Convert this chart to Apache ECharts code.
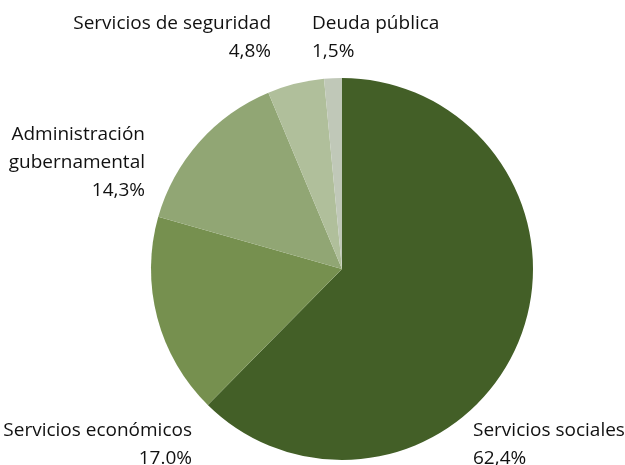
<!DOCTYPE html>
<html>
<head>
<meta charset="utf-8">
<script src="https://cdn.jsdelivr.net/npm/echarts@6/dist/echarts.min.js"></script>
<style>html,body{margin:0;padding:0;background:#fff;}#c{width:625px;height:465px;}</style>
</head>
<body>
<div id="c"></div>
<script>
const categories = ['Servicios sociales', 'Servicios económicos', 'Administración\ngubernamental', 'Servicios de seguridad', 'Deuda pública'];
const values = [62.4, 17.0, 14.3, 4.8, 1.5];
const valueLabels = ['62,4%', '17.0%', '14,3%', '4,8%', '1,5%'];
const colors = ['#435f27', '#76904f', '#91a674', '#b0bf9b', '#c0c8b8'];

// label anchor placement (layout, not data)
const labelPos = [
  {x: 473, y: 417, align: 'left'},
  {x: 192, y: 417, align: 'right'},
  {x: 145, y: 121, align: 'right'},
  {x: 271, y: 10, align: 'right'},
  {x: 312, y: 10, align: 'left'}
];

const chart = echarts.init(document.getElementById('c'));
chart.setOption({
  animation: false,
  series: [{
    type: 'pie',
    center: [342, 269],
    radius: [0, 191],
    startAngle: 90,
    clockwise: true,
    itemStyle: {borderWidth: 0},
    emphasis: {disabled: true},
    data: categories.map((n, i) => ({name: n, value: values[i], itemStyle: {color: colors[i]}})),
    label: {
      show: true,
      position: 'outside',
      formatter: p => p.name + '\n' + valueLabels[p.dataIndex],
      fontFamily: 'Open Sans',
      fontSize: 19,
      lineHeight: 28,
      color: '#111111',
      overflow: 'none',
      width: 300,
      verticalAlign: 'top'
    },
    labelLine: {show: false},
    labelLayout: p => ({
      x: labelPos[p.dataIndex].x,
      y: labelPos[p.dataIndex].y,
      align: labelPos[p.dataIndex].align,
      verticalAlign: 'top'
    })
  }]
});
</script>
</body>
</html>
